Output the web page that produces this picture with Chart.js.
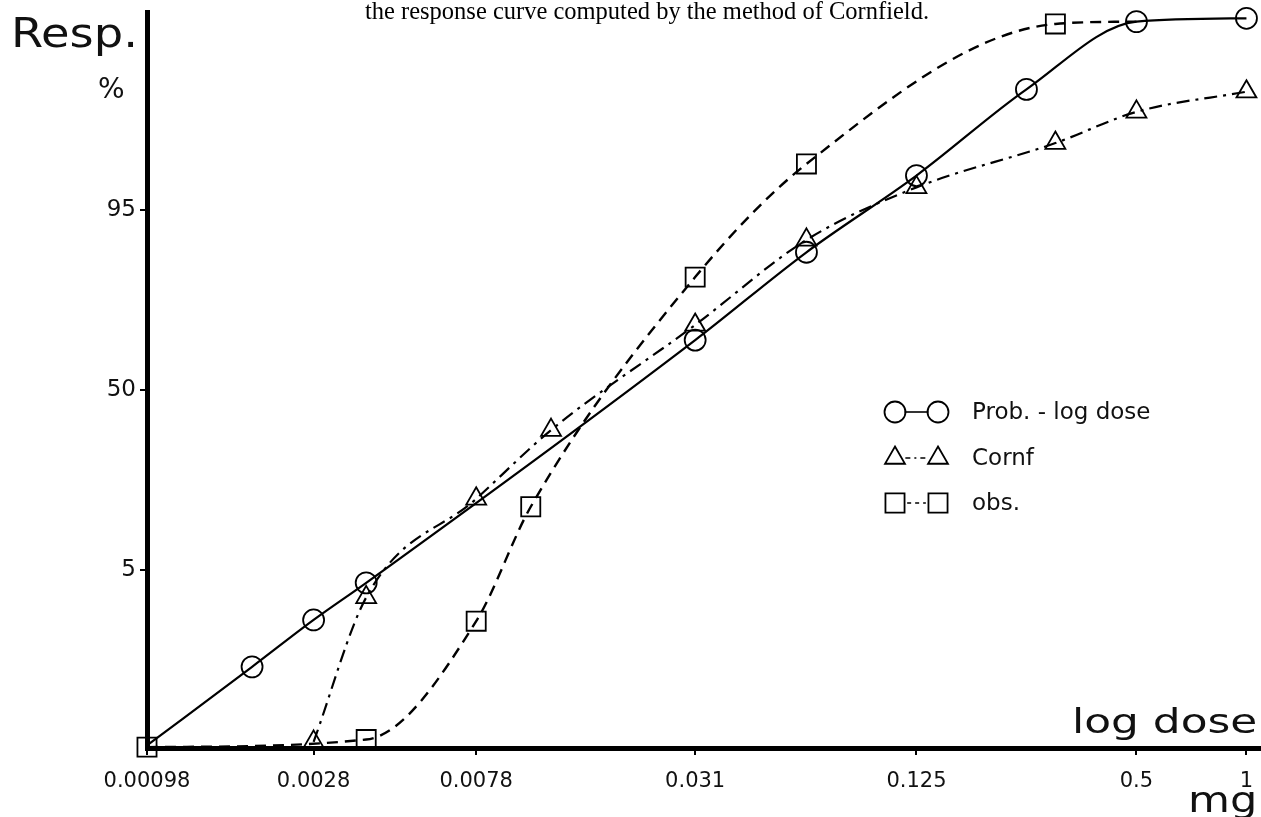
<!DOCTYPE html>
<html>
<head>
<meta charset="utf-8">
<script src="https://cdn.jsdelivr.net/npm/chart.js@4.4.1/dist/chart.umd.min.js"></script>
<style>
  html, body { margin: 0; padding: 0; background: #fff; }
  #wrap { width: 1261px; height: 817px; position: relative; }
</style>
</head>
<body>
<div id="wrap"><canvas id="chart" width="1261" height="817"></canvas></div>
<script>
// Dose (mg) and response (%) for each series
const probDoses = [0.00098, 0.0019, 0.0028, 0.0039, 0.031, 0.0625, 0.125, 0.25, 0.5, 1];
const probResp  = [0.058, 0.57, 1.78, 3.9, 67.6, 89.6, 97.5, 99.7, 99.962, 99.966];

const cornfDoses = [0.0028, 0.0039, 0.0078, 0.0125, 0.031, 0.0625, 0.125, 0.3, 0.5, 1];
const cornfResp  = [0.065, 2.9, 16, 35.7, 72.4, 91.5, 96.8, 98.8, 99.45, 99.68];

const obsDoses = [0.00098, 0.0039, 0.0078, 0.011, 0.031, 0.0625, 0.3, 0.5];
const obsResp  = [0.055, 0.07, 1.73, 14.3, 84.9, 98.06, 99.959, 99.962];

const seriesNames = ['Prob. - log dose', 'Cornf', 'obs.'];

// Axis ticks
const xTickValues = [0.00098, 0.0028, 0.0078, 0.031, 0.125, 0.5, 1];
const xTickLabels = ['0.00098', '0.0028', '0.0078', '0.031', '0.125', '0.5', '1'];
const yTickValues = [5, 50, 95];
const yTickLabels = ['5', '50', '95'];

// Axis extents
const xMinDose = 0.00098, xMaxDose = 1.096;
const yMinPct = 0.0534, yMaxPct = 99.9725;

// Probit transform: inverse standard normal CDF of a percentage (Acklam)
function probit(pct) {
  const p = pct / 100;
  const a = [-3.969683028665376e+01, 2.209460984245205e+02, -2.759285104469687e+02,
             1.383577518672690e+02, -3.066479806614716e+01, 2.506628277459239e+00];
  const b = [-5.447609879822406e+01, 1.615858368580409e+02, -1.556989798598866e+02,
             6.680131188771972e+01, -1.328068155288572e+01];
  const c = [-7.784894002430293e-03, -3.223964580411365e-01, -2.400758277161838e+00,
             -2.549732539343734e+00, 4.374664141464968e+00, 2.938163982698783e+00];
  const d = [7.784695709041462e-03, 3.224671290700398e-01, 2.445134137142996e+00,
             3.754408661907416e+00];
  const pl = 0.02425;
  let q, r;
  if (p < pl) {
    q = Math.sqrt(-2 * Math.log(p));
    return (((((c[0]*q+c[1])*q+c[2])*q+c[3])*q+c[4])*q+c[5]) / ((((d[0]*q+d[1])*q+d[2])*q+d[3])*q+1);
  } else if (p <= 1 - pl) {
    q = p - 0.5; r = q * q;
    return (((((a[0]*r+a[1])*r+a[2])*r+a[3])*r+a[4])*r+a[5])*q / (((((b[0]*r+b[1])*r+b[2])*r+b[3])*r+b[4])*r+1);
  }
  q = Math.sqrt(-2 * Math.log(1 - p));
  return -(((((c[0]*q+c[1])*q+c[2])*q+c[3])*q+c[4])*q+c[5]) / ((((d[0]*q+d[1])*q+d[2])*q+d[3])*q+1);
}

const toPoints = (doses, resp) => doses.map((x, i) => ({ x: x, y: probit(resp[i]) }));

const SANS = '"DejaVu Sans", "Liberation Sans", sans-serif';
const INK = '#000';

// Draws a hollow marker of the given style
function marker(ctx, style, x, y, r) {
  ctx.beginPath();
  if (style === 'circle') {
    ctx.arc(x, y, r, 0, Math.PI * 2);
  } else if (style === 'triangle') {
    for (let k = 0; k < 3; k++) {
      const ang = k * 2 * Math.PI / 3;
      const px = x + Math.sin(ang) * r, py = y - Math.cos(ang) * r;
      if (k === 0) ctx.moveTo(px, py); else ctx.lineTo(px, py);
    }
    ctx.closePath();
  } else {
    const s = Math.SQRT1_2 * r;
    ctx.rect(x - s, y - s, 2 * s, 2 * s);
  }
  ctx.stroke();
}

// Key: marker - line - marker, then the series name
const keyPlugin = {
  id: 'key',
  afterDatasetsDraw(chart) {
    const ctx = chart.ctx;
    const rows = [412, 458, 503];
    const x1 = 895, x2 = 938, tx = 972;
    chart.data.datasets.forEach((ds, i) => {
      const y = rows[i];
      const r = ds.keyRadius;
      ctx.save();
      ctx.strokeStyle = INK;
      ctx.lineWidth = 1.8;
      marker(ctx, ds.pointStyle, x1, y, r);
      marker(ctx, ds.pointStyle, x2, y, r);
      ctx.setLineDash(ds.keyDash);
      ctx.lineWidth = 1.6;
      ctx.beginPath();
      ctx.moveTo(x1 + r * 0.9, y);
      ctx.lineTo(x2 - r * 0.9, y);
      ctx.stroke();
      ctx.setLineDash([]);
      ctx.fillStyle = '#111';
      ctx.font = '23px ' + SANS;
      ctx.textBaseline = 'middle';
      ctx.textAlign = 'left';
      ctx.fillText(ds.label, tx, y + 1);
      ctx.restore();
    });
  }
};

// Caption and axis names
const labelPlugin = {
  id: 'labels',
  afterDraw(chart) {
    const ctx = chart.ctx;
    const wide = (text, x, y, size, sx) => {
      ctx.save();
      ctx.translate(x, y);
      ctx.scale(sx, 1);
      ctx.font = size + 'px ' + SANS;
      ctx.textAlign = 'left';
      ctx.textBaseline = 'alphabetic';
      ctx.fillText(text, 0, 0);
      ctx.restore();
    };
    ctx.save();
    ctx.fillStyle = '#000';
    ctx.font = '24.5px "Liberation Serif", "Times New Roman", serif';
    ctx.textAlign = 'center';
    ctx.textBaseline = 'alphabetic';
    ctx.fillText('the response curve computed by the method of Cornfield.', 647, 19);
    ctx.fillStyle = '#111';
    wide('Resp.', 11, 47, 41, 1.13);
    wide('%', 98, 98, 28, 1.0);
    wide('log dose', 1072, 733, 34, 1.29);
    wide('mg', 1188, 812, 35, 1.23);
    ctx.restore();
  }
};

new Chart(document.getElementById('chart'), {
  type: 'line',
  data: {
    datasets: [
      {
        label: seriesNames[0],
        data: toPoints(probDoses, probResp),
        borderColor: INK,
        borderWidth: 2.2,
        pointStyle: 'circle',
        pointRadius: c => (c.dataIndex === 0 ? 0 : 10.5),
        keyRadius: 10.5,
        keyDash: [],
        pointBorderWidth: 1.8,
        pointBorderColor: INK,
        pointBackgroundColor: 'rgba(0,0,0,0)',
        cubicInterpolationMode: 'monotone',
        fill: false,
        clip: false
      },
      {
        label: seriesNames[1],
        data: toPoints(cornfDoses, cornfResp),
        borderColor: INK,
        borderWidth: 2.2,
        borderDash: [13, 6, 3, 6],
        pointStyle: 'triangle',
        pointRadius: 11.5,
        keyRadius: 11.5,
        keyDash: [5, 4, 2, 4],
        pointBorderWidth: 1.8,
        pointBorderColor: INK,
        pointBackgroundColor: 'rgba(0,0,0,0)',
        cubicInterpolationMode: 'monotone',
        fill: false,
        clip: false
      },
      {
        label: seriesNames[2],
        data: toPoints(obsDoses, obsResp),
        borderColor: INK,
        borderWidth: 2.4,
        borderDash: [11, 7],
        pointStyle: 'rect',
        pointRadius: c => (c.dataIndex === obsDoses.length - 1 ? 0 : 13.5),
        keyRadius: 13.5,
        keyDash: [4, 4],
        pointBorderWidth: 1.8,
        pointBorderColor: INK,
        pointBackgroundColor: 'rgba(0,0,0,0)',
        cubicInterpolationMode: 'monotone',
        fill: false,
        clip: false
      }
    ]
  },
  options: {
    responsive: false,
    animation: false,
    events: [],
    layout: { autoPadding: false, padding: { top: 12, right: 0, left: 0, bottom: 0 } },
    plugins: {
      legend: { display: false },
      title: { display: false },
      tooltip: { enabled: false }
    },
    scales: {
      x: {
        type: 'logarithmic',
        min: xMinDose,
        max: xMaxDose,
        afterBuildTicks: s => { s.ticks = xTickValues.map(v => ({ value: v })); },
        afterFit: s => { s.height = 69; s.paddingLeft = 0; s.paddingRight = 0; },
        ticks: {
          autoSkip: false,
          maxRotation: 0,
          minRotation: 0,
          padding: 14,
          color: '#111',
          font: { family: SANS, size: 21 },
          callback: (v, i) => xTickLabels[i]
        },
        grid: { drawOnChartArea: false, drawTicks: true, tickLength: 7, color: INK, lineWidth: 2 },
        border: { display: true, color: INK, width: 5 }
      },
      y: {
        type: 'linear',
        min: probit(yMinPct),
        max: probit(yMaxPct),
        afterBuildTicks: s => { s.ticks = yTickValues.map(p => ({ value: probit(p) })); },
        afterFit: s => { s.width = 147; s.paddingTop = 0; s.paddingBottom = 0; },
        ticks: {
          autoSkip: false,
          padding: 4,
          color: '#111',
          font: { family: SANS, size: 23 },
          callback: (v, i) => yTickLabels[i]
        },
        grid: { drawOnChartArea: false, drawTicks: true, tickLength: 7, color: INK, lineWidth: 2 },
        border: { display: true, color: INK, width: 5 }
      }
    }
  },
  plugins: [keyPlugin, labelPlugin]
});
</script>
</body>
</html>
